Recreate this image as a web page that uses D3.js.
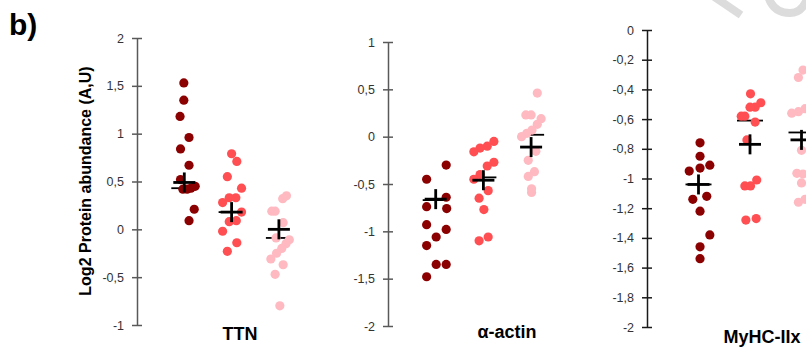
<!DOCTYPE html>
<html lang="en">
<head>
<meta charset="UTF-8">
<title>Log2 protein abundance</title>
<script src="https://d3js.org/d3.v7.min.js"></script>
<style>
    body { margin: 0; background: #fff; font-family: "Liberation Sans", Arial, sans-serif; }
    .tick text { font-size: 12.5px; fill: #333; }
    .catlabel { font-size: 18px; font-weight: bold; text-anchor: middle; }
</style>
</head>
<body>
<div id="chart"></div>
<script>
// group colours (dark, medium, light)
const groupColors = ["#8b0000", "#ff4f52", "#ffb9c1"];

// TTN
const ttnValues = [
    [1.53, 1.35, 1.18, 0.96, 0.84, 0.67, 0.52, 0.42, 0.42, 0.43, 0.45, 0.21, 0.09],
    [0.79, 0.71, 0.55, 0.43, 0.28, 0.33, 0.33, 0.18, 0.08, 0.09, -0.02, -0.14, -0.23],
    [0.35, 0.32, 0.19, 0.19, 0.07, -0.09, -0.11, -0.15, -0.20, -0.25, -0.31, -0.37, -0.47, -0.80]
];
const ttnXpos = [
    [0.99, 0.99, 0.91, 1.10, 0.92, 1.10, 0.92, 0.97, 1.06, 1.14, 1.23, 1.21, 1.10],
    [2.00, 2.11, 1.91, 2.21, 1.81, 1.95, 2.09, 2.21, 1.95, 2.10, 1.81, 2.11, 1.91],
    [3.16, 3.08, 2.85, 2.92, 3.09, 2.94, 3.22, 3.15, 3.06, 2.95, 2.83, 3.09, 2.92, 3.02]
];
const ttnMeans = [0.49, 0.18, 0.0];
const ttnMedians = [0.43, 0.18, -0.09];

// alpha-actin
const actinValues = [
    [-0.30, -0.45, -0.64, -0.74, -0.76, -0.93, -0.98, -1.06, -1.15, -1.35, -1.35, -1.48],
    [-0.05, -0.10, -0.12, -0.16, -0.27, -0.31, -0.40, -0.45, -0.57, -0.65, -0.77, -1.10, -1.06],
    [0.46, 0.23, 0.23, 0.19, 0.13, 0.07, 0.035, 0.0, -0.155, -0.25, -0.37, -0.42, -0.55, -0.59]
];
const actinXpos = [
    [1.22, 0.81, 1.22, 0.81, 1.23, 0.81, 1.22, 1.01, 0.81, 1.01, 1.22, 0.81],
    [2.22, 2.08, 1.93, 1.80, 2.22, 2.08, 1.93, 1.80, 2.10, 1.91, 2.01, 1.91, 2.10],
    [3.13, 2.89, 3.00, 3.21, 3.13, 3.02, 2.91, 2.80, 3.10, 2.94, 3.07, 2.94, 3.01, 3.01]
];
const actinMeans = [-0.66, -0.46, -0.11];
const actinMedians = [-0.67, -0.43, 0.02];

// MyHC-IIx
const myhcValues = [
    [-0.76, -0.85, -0.95, -0.93, -0.91, -1.14, -1.12, -1.22, -1.38, -1.46, -1.54],
    [-0.43, -0.49, -0.52, -0.52, -0.58, -0.58, -0.62, -0.74, -1.05, -1.05, -1.01, -1.28, -1.27],
    [-0.27, -0.32, -0.56, -0.55, -0.53, -0.81, -0.965, -0.97, -1.03, -1.16, -1.14]
];
const myhcXpos = [
    [1.03, 1.03, 0.82, 1.03, 1.22, 0.89, 1.16, 1.03, 1.22, 1.03, 1.03],
    [2.01, 2.21, 2.10, 2.00, 1.83, 1.90, 2.10, 1.94, 1.90, 2.01, 2.13, 1.92, 2.12],
    [3.03, 2.94, 2.81, 2.94, 3.07, 3.00, 2.91, 3.03, 3.00, 2.94, 3.07]
];
const myhcMeans = [-1.04, -0.77, -0.74];
const myhcMedians = [-1.04, -0.61, -0.69];

const width = 806, height = 352;

const panels = [
    { label: "TTN", values: ttnValues, xpos: ttnXpos, means: ttnMeans, medians: ttnMedians,
      domain: [-1, 2], step: 0.5, axisX: 137, unit: 47.3, top: 38, bottom: 325,
      axisColor: "#595959", labelX: 240, labelY: 340 },
    { label: "\u03b1-actin", values: actinValues, xpos: actinXpos, means: actinMeans, medians: actinMedians,
      domain: [-2, 1], step: 0.5, axisX: 388, unit: 47.7, top: 42, bottom: 326,
      axisColor: "#595959", labelX: 507, labelY: 338 },
    { label: "MyHC-IIx", values: myhcValues, xpos: myhcXpos, means: myhcMeans, medians: myhcMedians,
      domain: [-2, 0], step: 0.2, axisX: 647, unit: 51.5, top: 30, bottom: 327,
      axisColor: "#1a1a1a", labelX: 762, labelY: 343 }
];

const locale = d3.formatLocale({ decimal: ",", thousands: ".", grouping: [3], currency: ["", ""], minus: "-" });
const fmt = locale.format(".1~f");

const svg = d3.select("#chart").append("svg")
    .attr("width", width)
    .attr("height", height)
    .style("display", "block");

svg.append("rect").attr("width", width).attr("height", height).attr("fill", "#fff");

// faint watermark strokes in the top right corner
svg.append("path")
    .attr("d", "M713,-4 L741,15")
    .attr("stroke", "#dcdcdc").attr("stroke-width", 8).attr("fill", "none");
svg.append("path")
    .attr("d", "M768,-4 Q773,13 790,13 Q803,13 808,-4")
    .attr("stroke", "#dcdcdc").attr("stroke-width", 8).attr("fill", "none");

// panel label
svg.append("text")
    .attr("x", 9).attr("y", 35)
    .attr("font-size", 30).attr("font-weight", "bold")
    .text("b)");

// y axis title
svg.append("text")
    .attr("transform", "translate(91,181) rotate(-90)")
    .attr("text-anchor", "middle")
    .attr("font-size", 16).attr("font-weight", "bold")
    .text("Log2 Protein abundance (A,U)");

panels.forEach(p => {
    const y = d3.scaleLinear().domain(p.domain).range([p.bottom, p.top]);
    const x = d3.scaleLinear().domain([0, 1]).range([p.axisX, p.axisX + p.unit]);

    const n = Math.round((p.domain[1] - p.domain[0]) / p.step);
    const ticks = d3.range(n + 1).map(i => +(p.domain[0] + i * p.step).toFixed(2));

    const g = svg.append("g").attr("transform", "translate(" + p.axisX + ",0)");
    g.call(d3.axisLeft(y).tickValues(ticks).tickFormat(fmt).tickSize(5).tickSizeOuter(0).tickPadding(8));
    g.select(".domain").attr("stroke", p.axisColor).attr("stroke-width", 1.5);
    g.selectAll(".tick line").attr("x1", 5).attr("x2", -5).attr("stroke", p.axisColor).attr("stroke-width", 1.5);
    g.selectAll(".tick text").attr("font-family", "Liberation Sans, Arial, sans-serif");

    // medians
    svg.append("g").selectAll("line")
        .data(p.medians)
        .join("line")
        .attr("x1", (d, i) => x(i + 1) - 13)
        .attr("x2", (d, i) => x(i + 1) + 13)
        .attr("y1", d => y(d))
        .attr("y2", d => y(d))
        .attr("stroke", "#000")
        .attr("stroke-width", 1.8);

    // dots
    p.values.forEach((vals, gi) => {
        svg.append("g").selectAll("circle")
            .data(vals)
            .join("circle")
            .attr("cx", (d, i) => x(p.xpos[gi][i]))
            .attr("cy", d => y(d))
            .attr("r", 4.6)
            .attr("fill", groupColors[gi]);
    });

    // means as crosses
    const cross = svg.append("g").selectAll("g")
        .data(p.means)
        .join("g")
        .attr("transform", (d, i) => "translate(" + x(i + 1) + "," + y(d) + ")");
    cross.append("line").attr("x1", -11).attr("x2", 11).attr("y1", 0).attr("y2", 0)
        .attr("stroke", "#000").attr("stroke-width", 2.8);
    cross.append("line").attr("x1", 0).attr("x2", 0).attr("y1", -10).attr("y2", 10)
        .attr("stroke", "#000").attr("stroke-width", 2.8);

    svg.append("text")
        .attr("class", "catlabel")
        .attr("x", p.labelX).attr("y", p.labelY)
        .text(p.label);
});
</script>
</body>
</html>
